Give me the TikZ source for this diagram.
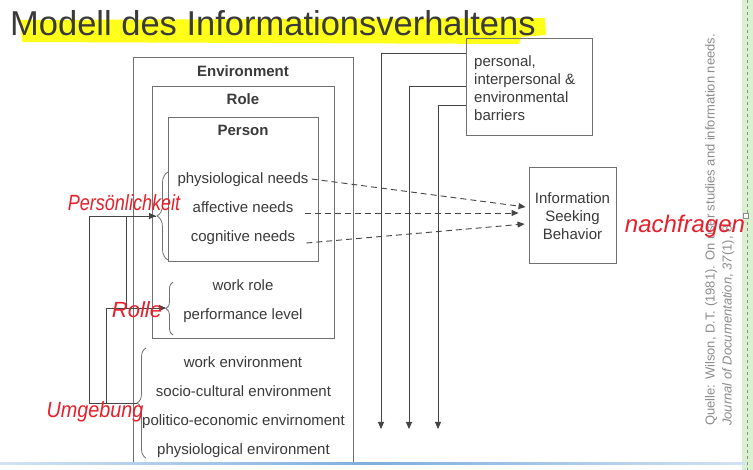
\documentclass[tikz,border=0pt]{standalone}
\usepackage{fontspec}
\setmainfont{Liberation Sans}
\usepackage{tikz}
\usetikzlibrary{positioning,arrows.meta,calc,decorations.pathreplacing}
\definecolor{inkgray}{HTML}{3A3A3A}
\definecolor{framegray}{HTML}{707070}
\definecolor{wiregray}{HTML}{454545}
\definecolor{srcgray}{HTML}{8C8C8C}
\definecolor{markred}{HTML}{E5202B}
\definecolor{marker}{HTML}{FFFF1A}
\definecolor{stripgreen}{HTML}{DAF1CF}
\definecolor{rulerblue}{HTML}{7FAEDD}

\begin{document}
\begin{tikzpicture}[x=1pt,y=-1pt,
 box/.style={draw=framegray,line width=.9pt,inner sep=0},
 head/.style={font=\fontsize{15}{18}\selectfont\bfseries,text=inkgray},
 lab/.style={font=\fontsize{15}{18}\selectfont,text=inkgray,inner sep=0,text height=11pt,text depth=3pt},
 wire/.style={draw=wiregray,line width=.9pt},
 flux/.style={wire,-{Triangle[length=7pt,width=6pt]}},
 need/.style={wire,dash pattern=on 6pt off 4pt,-{Triangle[length=7pt,width=6pt]}},
 curl/.style={draw=framegray,line width=.8pt,decorate},
 hand/.style={font=\fontsize{22}{24}\selectfont\itshape,text=markred,inner sep=0}]
\useasboundingbox (0,0) rectangle (753,470);
\fill[white] (0,0) rectangle (753,470);
% title with marker
\fill[marker] (20,20)--(545,18)--(546,35)--(521,37)--(519,44)--(22,42)--cycle;
\node[anchor=base west,inner sep=0,text=inkgray,font=\fontsize{34.5}{36}\selectfont] (title) at (10,36) {Modell des Informationsverhaltens};
% nested frames
\node[box,minimum width=220pt,minimum height=405pt] (env) at (243,259.5) {};
\node[box,minimum width=182pt,minimum height=252pt] (role) at (243,212) {};
\node[box,minimum width=150pt,minimum height=144pt] (person) at (243,189) {};
\node[head] (envhead) at (243,71) {Environment};
\node[head] (rolehead) at (243,99) {Role};
\node[head] (personhead) at (243,130) {Person};
\node[lab] (physneeds) at (243,180) {physiological needs};
\node[lab] (affneeds) at (243,209) {affective needs};
\node[lab] (cogneeds) at (243,238) {cognitive needs};
\node[lab] (workrole) at (243,287) {work role};
\node[lab] (perflevel) at (243,316) {performance level};
\node[lab] (workenv) at (243,364) {work environment};
\node[lab] (socioenv) at (243.5,393) {socio-cultural environment};
\node[lab] (poliecon) at (243.5,422) {politico-economic envirnoment};
\node[lab] (physenv) at (243.5,451) {physiological environment};
% braces
\draw[curl,decoration={brace,amplitude=11pt}] (168,260) -- (168,172);
\draw[curl,decoration={brace,amplitude=7pt}] (173,335) -- (173,282);
\draw[curl,decoration={brace,amplitude=9pt}] (146,458) -- (146,348);
\coordinate (persontip) at (156,216);
\coordinate (roletip) at (166,308);
\coordinate (envtip) at (137,403);
% feedback lines on the left
\draw[flux] (envtip) -- ++(-48,0) |- (persontip);
\draw[flux] ($(envtip)+(-31,0)$) |- (roletip);
\draw[wire] ($(roletip)+(-40,0)$) |- (persontip);
% barriers and behaviour
\node[box,minimum width=126pt,minimum height=97pt] (barrier) at (529,86.5) {};
\node[lab,anchor=north west,align=left,text height=,text depth=] (barriertext) at (474,55) {personal,\\interpersonal \&\\environmental\\barriers};
\node[box,minimum width=87pt,minimum height=96pt] (isb) at (572.5,215) {};
\node[lab,align=center,text height=,text depth=] (isbtext) at (572.5,216) {Information\\Seeking\\Behavior};
\coordinate (drop1) at (381,429);
\coordinate (drop2) at (409,429);
\coordinate (drop3) at (438,429);
\draw[flux] ($(barrier.north west)+(0,16)$) -| (drop1);
\draw[flux] ($(barrier.north west)+(0,49)$) -| (drop2);
\draw[flux] ($(barrier.north west)+(0,68)$) -| (drop3);
\draw[need] ($(physneeds.east)+(3,-1)$) -- ($(isb.west)+(-3,-8)$);
\draw[need] ($(affneeds.east)+(11,4)$) -- ($(isb.west)+(-10,-2)$);
\draw[need] ($(cogneeds.east)+(11,5)$) -- ($(isb.west)+(-4,9)$);
% source
\node[rotate=90,anchor=north west,align=left,inner sep=0,text=srcgray,font=\fontsize{13}{17}\selectfont] (source) at (705,426)
 {Quelle: Wilson, D.T. (1981). On user studies and information needs.\\\textit{Journal of Documentation}, \textit{37}(1), 8.};
% slide edge
\fill[stripgreen] (742,0) rectangle (753,470);
\draw[srcgray,dashed,line width=.6pt] (747,0) -- (747,470);
\node[draw=srcgray,fill=white,minimum size=5pt,inner sep=0] (handle) at (746,216) {};
\shade[left color=rulerblue!35,right color=rulerblue!35,middle color=rulerblue] (0,462.5) rectangle (745,464.5);
% handwritten notes
\node[hand,xscale=.82] (persnote) at (124,203) {Persönlichkeit};
\node[hand] (rolenote) at (137,310) {Rolle};
\node[hand,xscale=.9] (envnote) at (95,412) {Umgebung};
\node[hand,font=\fontsize{24}{26}\selectfont\itshape] (asknote) at (685,226) {nachfragen};
\end{tikzpicture}
\end{document}
